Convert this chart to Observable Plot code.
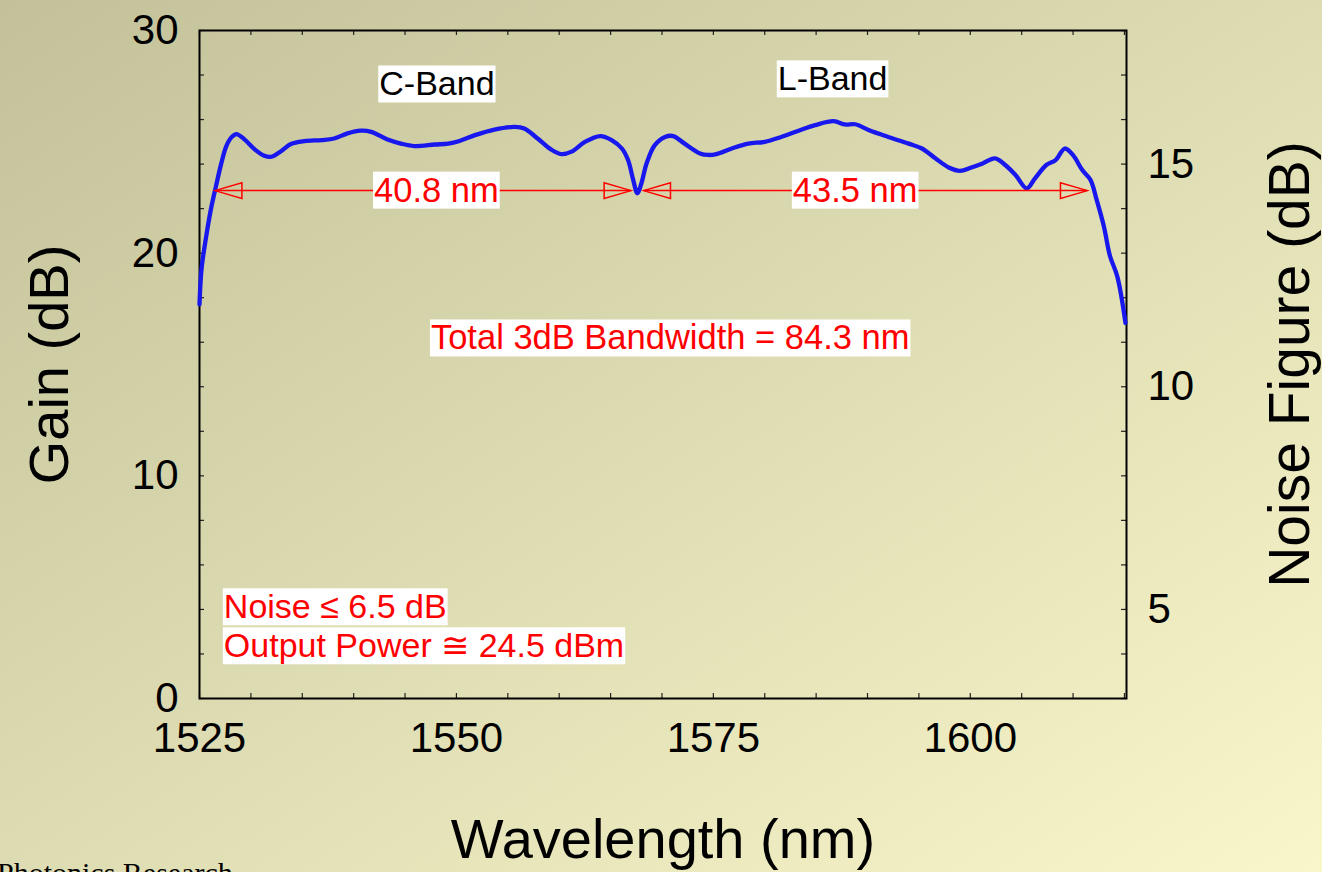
<!DOCTYPE html>
<html>
<head>
<meta charset="utf-8">
<script src="https://cdn.jsdelivr.net/npm/d3@7"></script>
<script src="https://cdn.jsdelivr.net/npm/@observablehq/plot@0.6"></script>
<style>
  html, body { margin: 0; padding: 0; }
  body {
    width: 1322px; height: 872px; overflow: hidden; position: relative;
    background: linear-gradient(to bottom right, #c2c199, #f9f6ca);
    font-family: Arial, "Liberation Sans", sans-serif;
  }
  #chart { position: absolute; left: 0; top: 0; }
  #credit {
    position: absolute; left: -3px; top: 856px;
    font-family: "Times New Roman", "Liberation Serif", serif; font-size: 30px; color: #000;
    white-space: nowrap;
  }
</style>
</head>
<body>
<div id="chart"></div>
<div id="credit">Photonics Research</div>
<script>
// ---- data ----
const wavelength = [
  1525.0, 1525.2, 1525.65, 1526.1, 1526.6, 1527.1, 1527.6, 1528.1, 1528.6, 1529.4,
  1530.4, 1531.3, 1532.0, 1533.0, 1533.9, 1535.2, 1536.9, 1538.1, 1539.4, 1540.7,
  1541.7, 1543.3, 1544.6, 1545.9, 1547.9, 1549.2, 1550.3, 1551.8, 1553.7, 1555.7,
  1556.6, 1557.9, 1559.2, 1560.2, 1561.2, 1562.5, 1564.0, 1565.1, 1566.1, 1566.7,
  1567.2, 1567.6, 1568.0, 1568.5, 1569.3, 1570.3, 1571.1, 1572.2, 1573.7, 1574.5,
  1575.3, 1576.8, 1578.4, 1580.0, 1581.6, 1583.3, 1584.9, 1586.7, 1587.8, 1588.8,
  1590.1, 1592.0, 1594.0, 1595.3, 1596.6, 1597.9, 1599.0, 1600.1, 1601.2, 1602.4,
  1603.4, 1604.4, 1605.5, 1606.3, 1607.4, 1608.3, 1609.2, 1610.0, 1610.9, 1611.7,
  1612.3, 1613.0, 1613.6, 1614.3, 1615.1
];
const gain = [
  17.7, 19.3, 20.75, 21.95, 23.0, 24.0, 24.8, 25.2, 25.35, 25.1,
  24.65, 24.38, 24.33, 24.6, 24.9, 25.03, 25.08, 25.15, 25.38, 25.5,
  25.45, 25.1, 24.92, 24.81, 24.88, 24.92, 25.04, 25.3, 25.55, 25.67,
  25.6, 25.15, 24.66, 24.45, 24.56, 25.0, 25.26, 25.08, 24.7, 24.18,
  23.29, 22.69, 23.14, 24.03, 24.85, 25.22, 25.26, 24.92, 24.48, 24.41,
  24.45, 24.7, 24.92, 25.0, 25.22, 25.5, 25.75, 25.93, 25.78, 25.79,
  25.53, 25.22, 24.92, 24.7, 24.26, 23.85, 23.7, 23.85, 24.03, 24.26,
  23.96, 23.51, 22.91, 23.36, 23.96, 24.18, 24.7, 24.4, 23.73, 23.29,
  22.39, 21.2, 19.86, 18.96, 16.87
];

const xDomain = [1525, 1615.2];
const gainDomain = [0, 30];
const nfDomain = [3, 18];               // right axis (Noise Figure) spans the same frame
const xTickLabels = [1525, 1550, 1575, 1600];
const gainTickLabels = [0, 10, 20, 30];
const nfTickLabels = [5, 10, 15];
const xMinorTicks = d3.range(1525, 1615.1, 5);
const gainMinorTicks = d3.range(0, 30.1, 2);

// 3 dB bandwidth arrows (wavelength from / to, at gain level)
const arrowFrom = [1526.5, 1568.2];
const arrowTo = [1567.0, 1611.4];
const arrowGain = [22.81, 22.81];

const bandNames = ["C-Band", "L-Band"];
const bandX = [1548.1, 1586.6];
const bandY = [27.57, 27.8];

const widthTexts = ["40.8 nm", "43.5 nm", "Total 3dB Bandwidth = 84.3 nm"];
const widthX = [1548.05, 1588.8, 1570.8];
const widthY = [22.81, 22.81, 16.17];

const specTexts = ["Noise \u2264 6.5 dB", "Output Power \u2245 24.5 dBm"];
const specX = [1527.37, 1527.37];
const specY = [4.09, 2.34];

// ---- build tables ----
const curve = wavelength.map((w, i) => ({w, g: gain[i]}));
const arrows = arrowFrom.map((a, i) => ({x1: a, x2: arrowTo[i], y: arrowGain[i]}));
const leftHeads = arrows.map(d => ({x: d.x1, y: d.y}));
const rightHeads = arrows.map(d => ({x: d.x2, y: d.y}));
const bands = bandNames.map((t, i) => ({t, x: bandX[i], y: bandY[i]}));
const widths = widthTexts.map((t, i) => ({t, x: widthX[i], y: widthY[i]}));
const specs = specTexts.map((t, i) => ({t, x: specX[i], y: specY[i]}));

// NF -> gain-scale position
const nfToGain = nf => gainDomain[0] + (nf - nfDomain[0]) / (nfDomain[1] - nfDomain[0]) * (gainDomain[1] - gainDomain[0]);
const gainToNf = g => nfDomain[0] + (g - gainDomain[0]) / (gainDomain[1] - gainDomain[0]) * (nfDomain[1] - nfDomain[0]);

// ---- layout ----
const W = 1322, H = 872;
const mT = 30, mR = 196, mB = 174, mL = 199;
const frameW = W - mL - mR, frameH = H - mT - mB;
const tickLen = 5;
const red = "#ff0000";
const blue = "#1717ee";

const headLeft = {draw(ctx) { ctx.moveTo(0, 0); ctx.lineTo(27, -7.8); ctx.lineTo(27, 7.8); ctx.closePath(); }};
const headRight = {draw(ctx) { ctx.moveTo(0, 0); ctx.lineTo(-27, -7.8); ctx.lineTo(-27, 7.8); ctx.closePath(); }};

const svg = Plot.plot({
  width: W, height: H,
  marginTop: mT, marginRight: mR, marginBottom: mB, marginLeft: mL,
  style: {background: "transparent", fontFamily: "Arial, 'Liberation Sans', sans-serif", color: "#000"},
  x: {domain: xDomain},
  y: {domain: gainDomain},
  marks: [
    // inward minor ticks on all four sides
    Plot.tickX(xMinorTicks, {x: d => d, insetTop: frameH - tickLen, stroke: "#222", strokeWidth: 1.2}),
    Plot.tickX(xMinorTicks, {x: d => d, insetBottom: frameH - tickLen, stroke: "#222", strokeWidth: 1.2}),
    Plot.tickY(gainMinorTicks, {y: d => d, insetRight: frameW - tickLen, stroke: "#222", strokeWidth: 1.2}),
    Plot.tickY(gainMinorTicks, {y: d => d, insetLeft: frameW - tickLen, stroke: "#222", strokeWidth: 1.2}),
    Plot.frame({stroke: "#000", strokeWidth: 2}),
    // tick labels
    Plot.axisX({ticks: xTickLabels, tickSize: 0, tickPadding: 24, fontSize: 42, tickFormat: d => String(d), label: null}),
    Plot.axisY({ticks: gainTickLabels, tickSize: 0, tickPadding: 21, fontSize: 42, label: null}),
    Plot.axisY({anchor: "right", ticks: nfTickLabels.map(nfToGain), tickSize: 0, tickPadding: 21, fontSize: 42,
      tickFormat: g => String(Math.round(gainToNf(g))), label: null}),
    // axis titles
    Plot.text(["Gain (dB)"], {frameAnchor: "left", dx: -149, rotate: -90, textAnchor: "middle", lineAnchor: "middle", fontSize: 56, fill: "#000"}),
    Plot.text(["Noise Figure (dB)"], {frameAnchor: "right", dx: 164, rotate: -90, textAnchor: "middle", lineAnchor: "middle", fontSize: 57, fill: "#000"}),
    Plot.text(["Wavelength (nm)"], {frameAnchor: "bottom", dy: 142, lineAnchor: "middle", fontSize: 56, fill: "#000"}),
    // gain curve
    Plot.line(curve, {x: "w", y: "g", stroke: blue, strokeWidth: 4.3, curve: "catmull-rom"}),
    // bandwidth arrows
    Plot.link(arrows, {x1: "x1", x2: "x2", y1: "y", y2: "y", stroke: red, strokeWidth: 1.5}),
    Plot.dot(leftHeads, {x: "x", y: "y", symbol: headLeft, fill: "none", stroke: red, strokeWidth: 1.5}),
    Plot.dot(rightHeads, {x: "x", y: "y", symbol: headRight, fill: "none", stroke: red, strokeWidth: 1.5}),
    // annotations (white boxes added below)
    Plot.text(bands, {x: "x", y: "y", text: "t", fontSize: 34, fill: "#000", ariaDescription: "boxed"}),
    Plot.text(widths, {x: "x", y: "y", text: "t", fontSize: 34.5, fill: red, ariaDescription: "boxed"}),
    Plot.text(specs, {x: "x", y: "y", text: "t", fontSize: 34, fill: red, textAnchor: "start", ariaDescription: "boxed"})
  ]
});

document.getElementById("chart").appendChild(svg);

// white background boxes behind annotation texts
svg.querySelectorAll('g[aria-description="boxed"]').forEach(g => {
  g.querySelectorAll("text").forEach(t => {
    const b = t.getBBox();
    const r = document.createElementNS("http://www.w3.org/2000/svg", "rect");
    r.setAttribute("x", b.x - 1);
    r.setAttribute("y", b.y + 1);
    r.setAttribute("width", b.width + 2);
    r.setAttribute("height", b.height - 1);
    r.setAttribute("fill", "#ffffff");
    r.setAttribute("stroke", "none");
    const tr = t.getAttribute("transform");
    if (tr) r.setAttribute("transform", tr);
    g.insertBefore(r, t);
  });
});
</script>
</body>
</html>
